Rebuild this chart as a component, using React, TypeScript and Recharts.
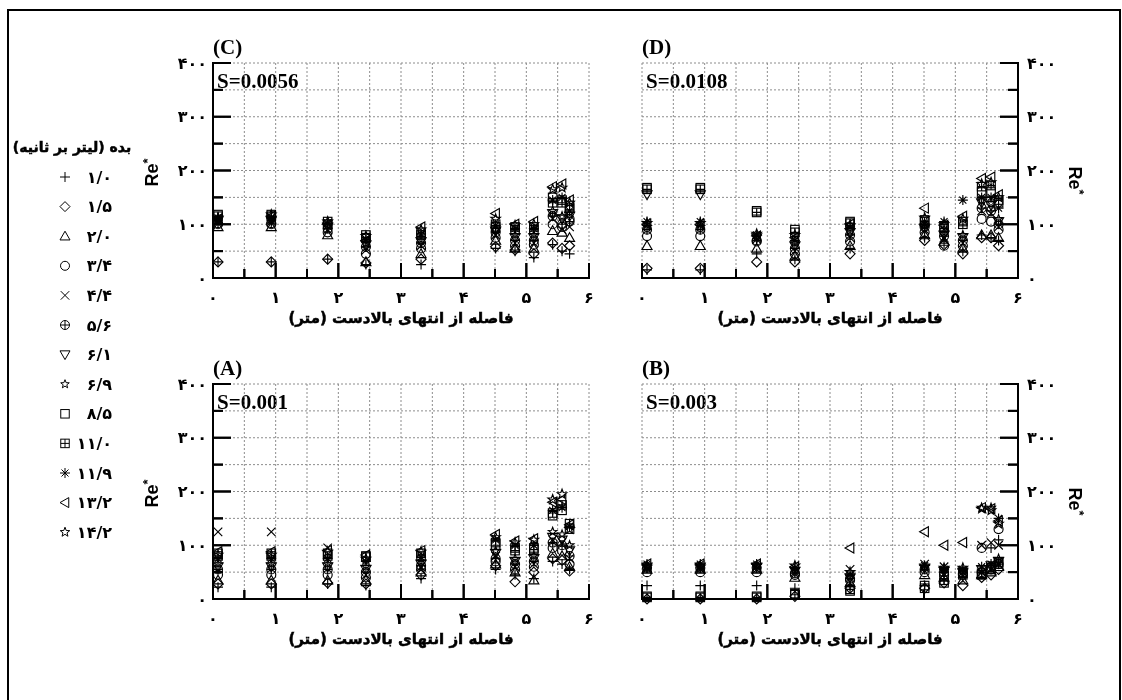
import React from 'react';
import { ScatterChart, Scatter, XAxis, YAxis, CartesianGrid } from 'recharts';

// ---------- data ----------
const stations = [0.08, 0.93, 1.83, 2.44, 3.32, 4.51, 4.82, 5.12, 5.42, 5.57, 5.69];

const dischargeLabels = ['۱/۰', '۱/۵', '۲/۰', '۳/۴', '۴/۴', '۵/۶', '۶/۱', '۶/۹', '۸/۵', '۱۱/۰', '۱۱/۹', '۱۳/۲', '۱۴/۲'];
const markerKinds = ['plus', 'diamond', 'triUp', 'circle', 'cross', 'circlePlus', 'triDown', 'smallStar', 'square', 'gridSquare', 'asterisk', 'triLeft', 'star'];

// Panel C, S=0.0056 (one row per discharge, one value per station)
const reC = [
  [30, 30, 35, 25, 25, 55, 50, 38, 62, 50, 45],
  [30, 30, 35, 28, 35, 58, 52, 45, 65, 55, 60],
  [95, 95, 80, 30, 45, 70, 55, 55, 88, 85, 75],
  [100, 100, 85, 45, 55, 75, 60, 62, 100, 95, 110],
  [105, 105, 90, 52, 60, 80, 65, 65, 110, 90, 95],
  [102, 102, 92, 58, 65, 85, 70, 70, 115, 100, 105],
  [108, 108, 95, 62, 68, 88, 75, 75, 120, 110, 115],
  [110, 110, 98, 65, 72, 90, 80, 80, 125, 115, 120],
  [118, 118, 105, 80, 85, 100, 95, 95, 150, 145, 130],
  [115, 115, 100, 75, 80, 95, 90, 90, 140, 140, 135],
  [112, 112, 102, 72, 82, 98, 92, 92, 145, 150, 125],
  [110, 115, 100, 70, 95, 120, 100, 105, 170, 175, 145],
  [112, 118, 105, 78, 90, 110, 98, 100, 165, 168, 140],
];

// Panel D, S=0.0108
const reD = [
  [15, 15, 45, 35, 55, 75, 65, 50, 80, 75, 70],
  [18, 18, 30, 30, 45, 70, 62, 45, 75, 75, 60],
  [60, 60, 55, 40, 60, 80, 68, 55, 80, 80, 75],
  [78, 78, 68, 45, 68, 85, 60, 60, 110, 105, 90],
  [98, 98, 72, 50, 75, 90, 75, 65, 125, 120, 95],
  [90, 90, 70, 55, 80, 95, 78, 70, 130, 125, 100],
  [155, 155, 75, 60, 85, 92, 80, 75, 140, 135, 105],
  [95, 95, 76, 65, 88, 98, 85, 80, 145, 140, 110],
  [168, 168, 125, 90, 105, 108, 95, 105, 160, 160, 140],
  [165, 165, 122, 85, 102, 105, 92, 100, 170, 172, 145],
  [105, 105, 80, 70, 95, 100, 105, 145, 150, 150, 130],
  [100, 100, 78, 75, 100, 130, 98, 115, 185, 188, 155],
  [102, 102, 82, 80, 98, 112, 100, 110, 175, 178, 150],
];

// Panel A, S=0.001
const reA = [
  [22, 22, 28, 25, 38, 55, 45, 38, 70, 65, 55],
  [28, 28, 30, 28, 45, 62, 32, 50, 75, 72, 52],
  [35, 35, 35, 35, 50, 65, 50, 35, 85, 80, 60],
  [45, 45, 45, 40, 55, 70, 55, 60, 95, 90, 65],
  [125, 125, 95, 45, 60, 80, 60, 65, 110, 105, 75],
  [55, 55, 55, 50, 62, 75, 65, 70, 105, 100, 80],
  [60, 60, 60, 55, 65, 85, 70, 75, 115, 110, 90],
  [65, 65, 65, 60, 70, 90, 75, 80, 125, 120, 100],
  [85, 85, 85, 80, 85, 105, 95, 95, 155, 165, 130],
  [80, 80, 80, 78, 80, 100, 90, 92, 160, 175, 140],
  [75, 75, 75, 70, 78, 110, 100, 100, 165, 170, 135],
  [88, 88, 90, 82, 90, 120, 108, 112, 180, 185, 138],
  [82, 82, 88, 75, 88, 115, 105, 110, 185, 195, 130],
];

// Panel B, S=0.003
const reB = [
  [25, 25, 25, 20, 25, 25, 35, 40, 50, 95, 110],
  [0, 0, 0, 5, 20, 20, 30, 25, 40, 45, 55],
  [55, 55, 55, 40, 30, 45, 40, 35, 45, 50, 60],
  [50, 50, 50, 45, 35, 50, 45, 45, 95, 55, 130],
  [55, 55, 55, 50, 55, 65, 60, 50, 100, 105, 100],
  [58, 58, 58, 48, 38, 55, 50, 48, 50, 60, 65],
  [60, 60, 60, 52, 40, 58, 52, 50, 55, 62, 70],
  [62, 62, 62, 55, 42, 60, 55, 52, 170, 170, 75],
  [5, 5, 5, 10, 15, 20, 30, 45, 45, 55, 65],
  [3, 3, 3, 8, 18, 25, 35, 50, 48, 58, 68],
  [65, 65, 65, 58, 45, 62, 55, 55, 60, 65, 150],
  [65, 65, 65, 60, 95, 125, 100, 105, 170, 168, 145],
  [60, 60, 62, 62, 50, 60, 58, 58, 168, 165, 140],
];

const xTicks = [0, 0.5, 1, 1.5, 2, 2.5, 3, 3.5, 4, 4.5, 5, 5.5, 6];
const yTicks = [0, 50, 100, 150, 200, 250, 300, 350, 400];
const xTickLabels = ['۰', '۱', '۲', '۳', '۴', '۵', '۶'];
const yTickLabels = ['۰', '۱۰۰', '۲۰۰', '۳۰۰', '۴۰۰'];

const xTitle = 'فاصله از انتهای بالادست (متر)';
const legendTitle = 'بده (لیتر بر ثانیه)';

const panels = [
  { id: 'C', label: '(C)', slope: 'S=0.0056', plotLeft: 213, plotTop: 63, side: 'left', rows: reC },
  { id: 'D', label: '(D)', slope: 'S=0.0108', plotLeft: 642, plotTop: 63, side: 'right', rows: reD },
  { id: 'A', label: '(A)', slope: 'S=0.001', plotLeft: 213, plotTop: 384, side: 'left', rows: reA },
  { id: 'B', label: '(B)', slope: 'S=0.003', plotLeft: 642, plotTop: 384, side: 'right', rows: reB },
];

// ---------- layout ----------
const X_MAX = 6;
const Y_MAX = 400;
const PLOT_W = 376;
const PLOT_H = 215;
const AXIS_W = 90;
const AXIS_H = 60;
const PAD = 10;
const TOP = 40;
const CHART_W = AXIS_W + PLOT_W + PAD;
const CHART_H = TOP + PLOT_H + AXIS_H;

const numFont = '"DejaVu Sans", sans-serif';
const serifFont = '"Liberation Serif", "Times New Roman", serif';

// ---------- markers ----------
function Marker({ kind, cx, cy, r, sw = 1.15 }: { kind: string; cx: number; cy: number; r: number; sw?: number }) {
  const p = { fill: 'none', stroke: '#000', strokeWidth: sw };
  const s = r * 0.85;
  switch (kind) {
    case 'plus':
      return <path d={`M${cx - r},${cy}H${cx + r}M${cx},${cy - r}V${cy + r}`} {...p} />;
    case 'diamond':
      return <path d={`M${cx},${cy - r}L${cx + r},${cy}L${cx},${cy + r}L${cx - r},${cy}Z`} {...p} />;
    case 'triUp':
      return <path d={`M${cx},${cy - r}L${cx + r},${cy + r * 0.75}L${cx - r},${cy + r * 0.75}Z`} {...p} />;
    case 'triDown':
      return <path d={`M${cx},${cy + r}L${cx + r},${cy - r * 0.75}L${cx - r},${cy - r * 0.75}Z`} {...p} />;
    case 'triLeft':
      return <path d={`M${cx - r},${cy}L${cx + r * 0.75},${cy - r}L${cx + r * 0.75},${cy + r}Z`} {...p} />;
    case 'circle':
      return <circle cx={cx} cy={cy} r={r * 0.9} {...p} />;
    case 'cross':
      return <path d={`M${cx - s},${cy - s}L${cx + s},${cy + s}M${cx - s},${cy + s}L${cx + s},${cy - s}`} {...p} />;
    case 'circlePlus':
      return (
        <g>
          <circle cx={cx} cy={cy} r={r * 0.9} {...p} />
          <path d={`M${cx - r * 0.9},${cy}H${cx + r * 0.9}M${cx},${cy - r * 0.9}V${cy + r * 0.9}`} {...p} />
        </g>
      );
    case 'square':
      return <rect x={cx - s} y={cy - s} width={2 * s} height={2 * s} {...p} />;
    case 'gridSquare':
      return (
        <g>
          <rect x={cx - s} y={cy - s} width={2 * s} height={2 * s} {...p} />
          <path d={`M${cx - s},${cy}H${cx + s}M${cx},${cy - s}V${cy + s}`} {...p} />
        </g>
      );
    case 'asterisk': {
      const d = r * 0.7;
      return (
        <path
          d={`M${cx - r},${cy}H${cx + r}M${cx},${cy - r}V${cy + r}M${cx - d},${cy - d}L${cx + d},${cy + d}M${cx - d},${cy + d}L${cx + d},${cy - d}`}
          {...p}
        />
      );
    }
    case 'star':
    case 'smallStar': {
      const ro = kind === 'smallStar' ? r * 0.9 : r;
      const ri = ro * 0.42;
      const pts: string[] = [];
      for (let i = 0; i < 10; i++) {
        const a = -Math.PI / 2 + (i * Math.PI) / 5;
        const rr = i % 2 === 0 ? ro : ri;
        pts.push(`${(cx + rr * Math.cos(a)).toFixed(2)},${(cy + rr * Math.sin(a)).toFixed(2)}`);
      }
      return <polygon points={pts.join(' ')} {...p} />;
    }
    default:
      return null;
  }
}

// ---------- tick renderers (library axes) ----------
const renderXTick = (props: any) => {
  const x = Number(props.x);
  const y = Number(props.y);
  const v = props.payload.value;
  const isInt = Math.abs(v - Math.round(v)) < 1e-6;
  const len = isInt ? 15 : 9;
  return (
    <g>
      <rect x={x - 1} y={y - len} width={2} height={len} fill="#000" />
      {isInt && (
        <text x={x} y={y + 25} textAnchor="middle" fontFamily={numFont} fontWeight="bold" fontSize={16} fill="#000">
          {xTickLabels[Math.round(v)]}
        </text>
      )}
    </g>
  );
};

const renderYTickLeft = (props: any) => {
  const x = Number(props.x);
  const y = Number(props.y);
  const v = props.payload.value;
  const major = v % 100 === 0;
  const len = major ? 18 : 10;
  return (
    <g>
      <rect x={x} y={y - 1} width={len} height={2} fill="#000" />
      {major && (
        <text x={x - 6} y={y} dy="0.35em" textAnchor="end" fontFamily={numFont} fontWeight="bold" fontSize={16} fill="#000">
          {yTickLabels[v / 100]}
        </text>
      )}
    </g>
  );
};

const renderYTickRight = (props: any) => {
  const x = Number(props.x);
  const y = Number(props.y);
  const v = props.payload.value;
  const major = v % 100 === 0;
  const len = major ? 18 : 10;
  return (
    <g>
      <rect x={x - len} y={y - 1} width={len} height={2} fill="#000" />
      {major && (
        <text x={x + 9} y={y} dy="0.35em" textAnchor="start" fontFamily={numFont} fontWeight="bold" fontSize={16} fill="#000">
          {yTickLabels[v / 100]}
        </text>
      )}
    </g>
  );
};

// ---------- axis frame drawn under each chart (same geometry as the plot box) ----------
function AxisFrame({ cfg }: { cfg: any }) {
  const isLeft = cfg.side === 'left';
  const x0 = isLeft ? AXIS_W : PAD;
  const y0 = TOP;
  const sx = (v: number) => x0 + (PLOT_W * v) / X_MAX;
  const sy = (v: number) => y0 + PLOT_H * (1 - v / Y_MAX);
  const axisX = isLeft ? x0 : x0 + PLOT_W;
  const dir = isLeft ? 1 : -1;
  const bottom = y0 + PLOT_H;
  const midY = y0 + PLOT_H / 2;
  const reX = isLeft ? x0 - 55 : x0 + PLOT_W + 51;
  const reY = isLeft ? midY + 16 : midY - 4;
  return (
    <svg width={CHART_W} height={CHART_H} style={{ position: 'absolute', left: 0, top: 0 }}>
      <path d={`M${axisX},${y0}V${bottom}M${x0},${bottom}H${x0 + PLOT_W}`} stroke="#000" strokeWidth={2} fill="none" strokeLinecap="square" />
      {xTicks.map((v) => {
        const len = Math.abs(v - Math.round(v)) < 1e-6 ? 15 : 9;
        return <rect key={`x${v}`} x={sx(v) - 1} y={bottom - len} width={2} height={len} fill="#000" />;
      })}
      {yTicks.map((v) => {
        const len = v % 100 === 0 ? 18 : 10;
        return <rect key={`y${v}`} x={dir > 0 ? axisX : axisX - len} y={sy(v) - 1} width={len} height={2} fill="#000" />;
      })}
      <text x={x0} y={y0 - 9} fontFamily={serifFont} fontWeight="bold" fontSize={21}>
        {cfg.label}
      </text>
      <text x={x0 + 4} y={y0 + 25} fontFamily={serifFont} fontWeight="bold" fontSize={21}>
        {cfg.slope}
      </text>
      <text
        x={x0 + PLOT_W / 2}
        y={bottom + 45}
        textAnchor="middle"
        direction="rtl"
        fontFamily={numFont}
        fontWeight="bold"
        fontSize={15}
        stroke="#000"
        strokeWidth={0.5}
      >
        {xTitle}
      </text>
      <text
        transform={`translate(${reX},${reY}) rotate(${isLeft ? -90 : 90})`}
        fontFamily='"Liberation Sans", Arial, sans-serif'
        fontWeight="bold"
        fontSize={18}
      >
        Re
        <tspan dy={-6} fontSize={13}>*</tspan>
      </text>
    </svg>
  );
}

// ---------- panel ----------
function Panel({ cfg }: { cfg: any }) {
  const isLeft = cfg.side === 'left';
  const wrapLeft = (isLeft ? cfg.plotLeft - AXIS_W : cfg.plotLeft - PAD) - 8;
  const wrapTop = cfg.plotTop - TOP - 8;
  return (
    <div style={{ position: 'absolute', left: wrapLeft, top: wrapTop, width: CHART_W, height: CHART_H }}>
      <AxisFrame cfg={cfg} />
      <div style={{ position: 'absolute', left: 0, top: 0 }}>
        <ScatterChart
          width={CHART_W}
          height={CHART_H}
          margin={{ top: TOP, right: isLeft ? PAD : 0, bottom: 0, left: isLeft ? 0 : PAD }}
        >
          <CartesianGrid stroke="#8c8c8c" strokeDasharray="2 2" />
          <XAxis
            type="number"
            dataKey="x"
            domain={[0, X_MAX]}
            ticks={xTicks}
            interval={0}
            height={AXIS_H}
            tickSize={0}
            tickMargin={0}
            tick={renderXTick}
            tickLine={false}
            axisLine={{ stroke: '#000', strokeWidth: 2 }}
          />
          <YAxis
            type="number"
            dataKey="y"
            domain={[0, Y_MAX]}
            ticks={yTicks}
            interval={0}
            width={AXIS_W}
            orientation={isLeft ? 'left' : 'right'}
            tickSize={0}
            tickMargin={0}
            tick={isLeft ? renderYTickLeft : renderYTickRight}
            tickLine={false}
            axisLine={{ stroke: '#000', strokeWidth: 2 }}
          />
          {cfg.rows.map((row: number[], si: number) => (
            <Scatter
              key={si}
              name={dischargeLabels[si]}
              data={stations.map((x, i) => ({ x, y: row[i] }))}
              isAnimationActive={false}
              shape={(p: any) => <Marker kind={markerKinds[si]} cx={p.cx} cy={p.cy} r={5} />}
            />
          ))}
        </ScatterChart>
      </div>
    </div>
  );
}

function LegendBlock() {
  const x0 = 65;
  const y0 = 47;
  const dy = 29.6;
  return (
    <svg width={145} height={430} style={{ position: 'absolute', left: -8, top: 122 }}>
      <text x={72} y={22} textAnchor="middle" direction="rtl" fontFamily={numFont} fontWeight="bold" fontSize={14} stroke="#000" strokeWidth={0.5}>
        {legendTitle}
      </text>
      {dischargeLabels.map((lab, i) => (
        <g key={i}>
          <Marker kind={markerKinds[i]} cx={x0} cy={y0 + i * dy} r={5} sw={1} />
          <text x={112} y={y0 + i * dy} dy="0.35em" textAnchor="end" fontFamily={numFont} fontWeight="bold" fontSize={16}>
            {lab}
          </text>
        </g>
      ))}
    </svg>
  );
}

export default function App() {
  return (
    <div style={{ position: 'relative', width: 1106, height: 680 }}>
      <div
        style={{
          position: 'fixed',
          left: 7,
          top: 9,
          width: 1114,
          height: 720,
          border: '2px solid #000',
          boxSizing: 'border-box',
          pointerEvents: 'none',
        }}
      />
      <LegendBlock />
      {panels.map((p) => (
        <Panel key={p.id} cfg={p} />
      ))}
    </div>
  );
}
